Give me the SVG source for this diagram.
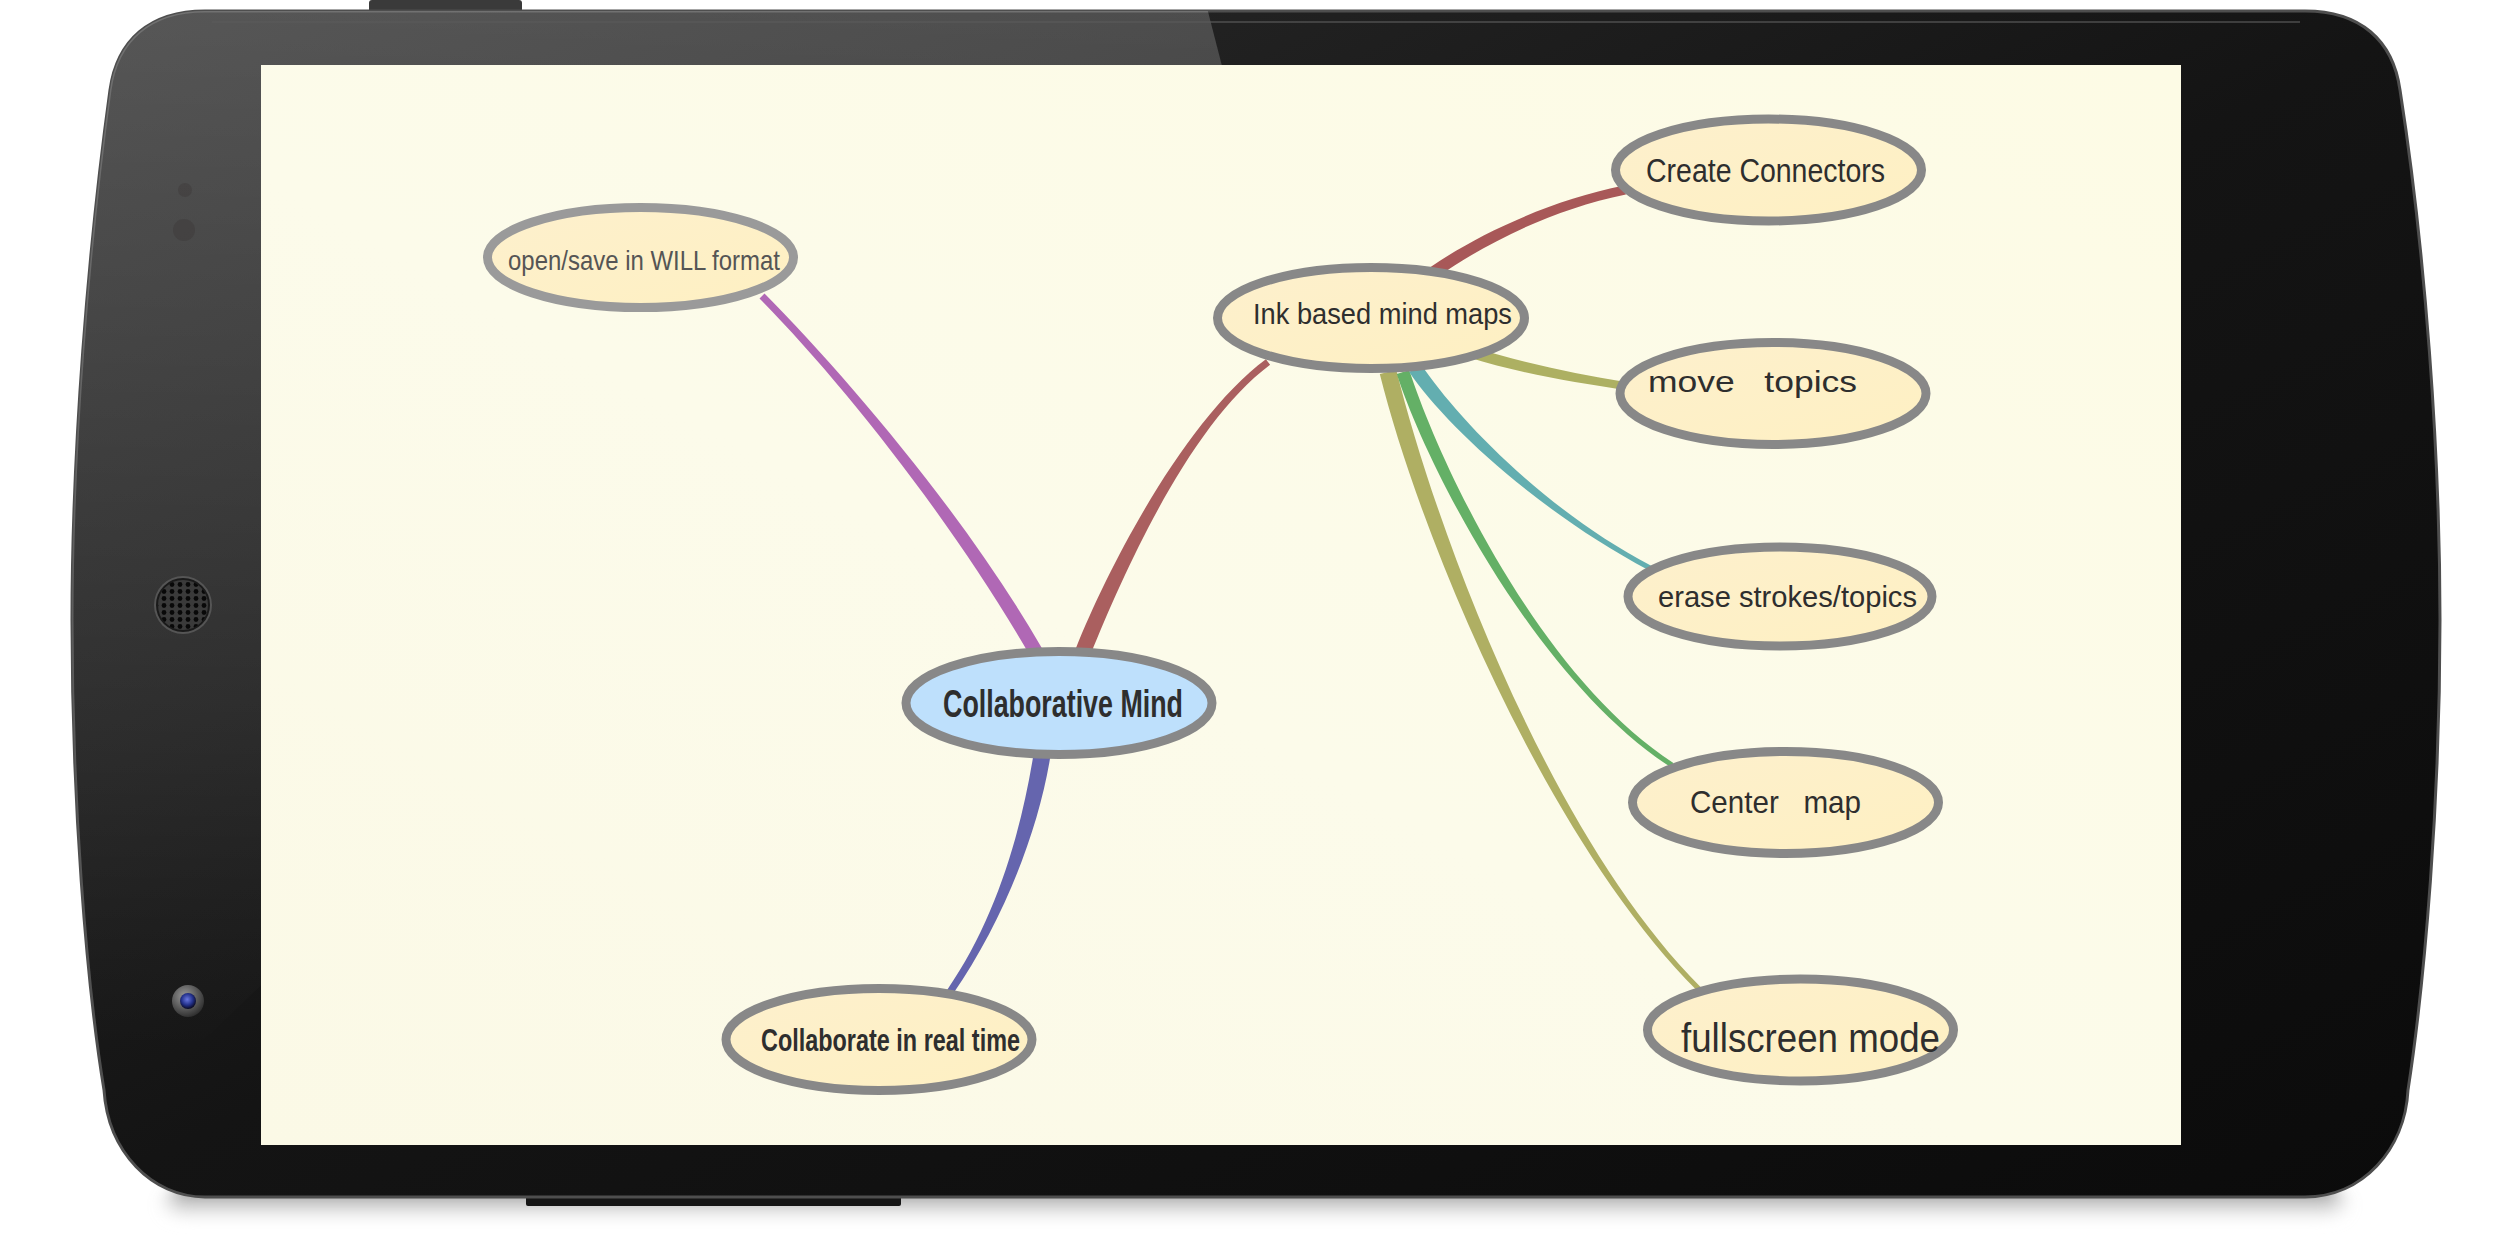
<svg xmlns="http://www.w3.org/2000/svg" width="2497" height="1235" viewBox="0 0 2497 1235">
  <defs>
    <linearGradient id="bodyGrad" x1="0" y1="0" x2="1" y2="1">
      <stop offset="0" stop-color="#2e2e2e"/>
      <stop offset="0.5" stop-color="#141414"/>
      <stop offset="1" stop-color="#0b0b0b"/>
    </linearGradient>
    <linearGradient id="glossGrad" x1="0" y1="0" x2="0" y2="1">
      <stop offset="0" stop-color="#ffffff" stop-opacity="0.2"/>
      <stop offset="0.55" stop-color="#ffffff" stop-opacity="0.08"/>
      <stop offset="0.85" stop-color="#ffffff" stop-opacity="0"/>
    </linearGradient>
    <linearGradient id="shadowGrad" x1="0" y1="0" x2="0" y2="1">
      <stop offset="0" stop-color="#707070" stop-opacity="0.9"/>
      <stop offset="0.5" stop-color="#b0b0b0" stop-opacity="0.5"/>
      <stop offset="1" stop-color="#ffffff" stop-opacity="0"/>
    </linearGradient>
    <linearGradient id="screenGrad" x1="0" y1="1" x2="1" y2="0">
      <stop offset="0" stop-color="#fbf9e6"/>
      <stop offset="0.45" stop-color="#fcfbea"/>
      <stop offset="1" stop-color="#fdfbe5"/>
    </linearGradient>
    <linearGradient id="creamGrad" x1="0" y1="0" x2="1" y2="1">
      <stop offset="0" stop-color="#fdf0cd"/>
      <stop offset="1" stop-color="#fef0c2"/>
    </linearGradient>
    <radialGradient id="camRing" cx="0.4" cy="0.35" r="0.7">
      <stop offset="0" stop-color="#9a9a9a"/>
      <stop offset="1" stop-color="#2a2a2a"/>
    </radialGradient>
    <radialGradient id="camLens" cx="0.45" cy="0.4" r="0.6">
      <stop offset="0" stop-color="#6a78e0"/>
      <stop offset="0.6" stop-color="#22308a"/>
      <stop offset="1" stop-color="#0a0a20"/>
    </radialGradient>
    <pattern id="holes" x="0" y="0" width="8" height="7" patternUnits="userSpaceOnUse">
      <rect width="8" height="7" fill="#3a3a3a"/>
      <circle cx="4" cy="3.5" r="2.4" fill="#080808"/>
    </pattern>
    <clipPath id="bodyClip">
      <path d="M 205,11 L 2305,11 C 2360,11 2393,40 2400,90 C 2425,250 2440,450 2440,620 C 2440,800 2425,980 2408,1090 C 2405,1150 2362,1197 2305,1197 L 205,1197 C 152,1197 108,1152 104,1090 C 86,980 72,800 72,620 C 72,450 88,250 110,90 C 117,40 150,11 205,11 Z"/>
    </clipPath>
    <filter id="blur" x="-0.1" y="-1" width="1.2" height="3">
      <feGaussianBlur stdDeviation="10 5"/>
    </filter>
    <style>
      .node { fill: url(#creamGrad); stroke: #888888; stroke-width: 9; }
      .node-light { fill: url(#creamGrad); stroke: #9a9a9a; stroke-width: 9; }
      .node-root { fill: #bee0fc; stroke: #888888; stroke-width: 9; }
      .label { font-family: "Liberation Sans Narrow", "Liberation Sans", Arial, sans-serif; fill: #2e2e2e; }
    </style>
  </defs>

  <rect width="2497" height="1235" fill="#ffffff"/>

  <!-- phone shadow -->
  <rect x="170" y="1185" width="2170" height="44" rx="20" fill="url(#shadowGrad)" filter="url(#blur)"/>

  <!-- buttons -->
  <rect x="369" y="0" width="153" height="14" rx="3" fill="#3a3a3a"/>
  <rect x="526" y="1190" width="375" height="16" rx="2" fill="#151515"/>

  <!-- phone body -->
  <path d="M 205,11 L 2305,11 C 2360,11 2393,40 2400,90 C 2425,250 2440,450 2440,620 C 2440,800 2425,980 2408,1090 C 2405,1150 2362,1197 2305,1197 L 205,1197 C 152,1197 108,1152 104,1090 C 86,980 72,800 72,620 C 72,450 88,250 110,90 C 117,40 150,11 205,11 Z" fill="url(#bodyGrad)" stroke="#4e4e4e" stroke-width="3"/>
  <g clip-path="url(#bodyClip)">
    <path d="M 0,0 L 1205,0 L 1222,66 L 0,1235 Z" fill="url(#glossGrad)"/>
  </g>
  <path d="M 212,22 L 2300,22" stroke="#5a5a5a" stroke-width="2" fill="none" opacity="0.6"/>

  <!-- sensors, speaker, camera -->
  <circle cx="185" cy="190" r="7" fill="#3a3434" opacity="0.35"/>
  <circle cx="184" cy="230" r="11" fill="#3a3434" opacity="0.35"/>
  <circle cx="183" cy="605" r="29" fill="#555555"/>
  <circle cx="183" cy="605" r="26" fill="url(#holes)"/>
  <circle cx="183" cy="605" r="26" fill="none" stroke="#1a1a1a" stroke-width="2"/>
  <circle cx="188" cy="1001" r="16" fill="url(#camRing)"/>
  <circle cx="188" cy="1001" r="8" fill="url(#camLens)"/>

  <!-- screen -->
  <rect x="261" y="65" width="1920" height="1080" fill="url(#screenGrad)"/>

  <!-- connectors -->
  <g id="connectors">
    <path id="c-root-ink" fill="#aa5f5f" d="M 1090.4,655 C 1127.4,563 1192.1,422.8 1270.1,364.8 L 1265.9,359.2 C 1187.9,417.2 1112.6,557 1075.6,649 Z"/>
    <path id="c-root-open" fill="#b068b5" d="M 1042.1,648.5 C 966.1,516.5 847.5,377.5 764.5,293.5 L 759.5,298.5 C 842.5,382.5 953.9,523.5 1029.9,655.5 Z"/>
    <path id="c-root-collab" fill="#6565ae" d="M 1033.6,753.7 C 1021.6,828.7 997.1,918 947.1,990 L 952.9,994 C 1002.9,922 1038.4,831.3 1050.4,756.3 Z"/>
    <path id="c-ink-create" fill="#a85858" d="M 1437.4,276.9 C 1483.4,244.9 1550.9,209.4 1625.9,194.4 L 1624.1,185.6 C 1549.1,200.6 1476.6,235.1 1430.6,267.1 Z"/>
    <path id="c-ink-full" fill="#afaf63" d="M 1379.8,374.1 C 1421.8,542.1 1548.2,841.8 1697.2,990.8 L 1700.8,987.2 C 1551.8,838.2 1438.3,537.9 1396.3,369.9 Z"/>
    <path id="c-ink-centermap" fill="#64b066" d="M 1396.8,374 C 1428.8,472 1538.6,682.1 1670.6,767.1 L 1673.4,762.9 C 1541.4,677.9 1441.2,468 1409.2,370 Z"/>
    <path id="c-ink-erase" fill="#63aeb0" d="M 1409.2,371.9 C 1444.2,423.9 1538.8,512.2 1648.8,570.2 L 1651.2,565.8 C 1541.2,507.8 1455.8,416.1 1420.8,364.1 Z"/>
    <path id="c-ink-move" fill="#adb062" d="M 1468.3,357.2 C 1518.3,373.2 1574.4,382 1624.4,390 L 1625.6,382 C 1575.6,374 1521.7,362.8 1471.7,346.8 Z"/>
  </g>

  <!-- nodes -->
  <g id="node-open-save">
    <ellipse class="node-light" cx="640.5" cy="257.5" rx="153" ry="50"/>
    <text class="label" x="508" y="270" font-size="28" textLength="272" lengthAdjust="spacingAndGlyphs" style="fill:#555555">open/save in WILL format</text>
  </g>
  <g id="node-collaborative-mind">
    <ellipse class="node-root" cx="1059" cy="703" rx="153" ry="51.5"/>
    <text class="label" x="943" y="717" font-size="38" font-weight="bold" textLength="240" lengthAdjust="spacingAndGlyphs">Collaborative Mind</text>
  </g>
  <g id="node-ink-based">
    <ellipse class="node" cx="1371" cy="318" rx="153.5" ry="50.5"/>
    <text class="label" x="1253" y="324" font-size="30" textLength="259" lengthAdjust="spacingAndGlyphs">Ink based mind maps</text>
  </g>
  <g id="node-create-connectors">
    <ellipse class="node" cx="1768.5" cy="170" rx="153" ry="51"/>
    <text class="label" x="1646" y="182" font-size="34" textLength="239" lengthAdjust="spacingAndGlyphs">Create Connectors</text>
  </g>
  <g id="node-move-topics">
    <ellipse class="node" cx="1773" cy="393.5" rx="153" ry="51"/>
    <text class="label" x="1648" y="392" font-size="30" textLength="209" lengthAdjust="spacingAndGlyphs" xml:space="preserve">move   topics</text>
  </g>
  <g id="node-erase">
    <ellipse class="node" cx="1780" cy="596.5" rx="152" ry="49.5"/>
    <text class="label" x="1658" y="607" font-size="30" textLength="259" lengthAdjust="spacingAndGlyphs">erase strokes/topics</text>
  </g>
  <g id="node-center-map">
    <ellipse class="node" cx="1785.5" cy="802.5" rx="153" ry="51"/>
    <text class="label" x="1690" y="813" font-size="32" textLength="171" lengthAdjust="spacingAndGlyphs" xml:space="preserve">Center   map</text>
  </g>
  <g id="node-fullscreen">
    <ellipse class="node" cx="1800.5" cy="1030" rx="153" ry="51"/>
    <text class="label" x="1681" y="1052" font-size="40" textLength="259" lengthAdjust="spacingAndGlyphs">fullscreen mode</text>
  </g>
  <g id="node-collaborate">
    <ellipse class="node" cx="879" cy="1039.5" rx="153" ry="51"/>
    <text class="label" x="761" y="1051" font-size="32" font-weight="bold" textLength="259" lengthAdjust="spacingAndGlyphs">Collaborate in real time</text>
  </g>
</svg>
